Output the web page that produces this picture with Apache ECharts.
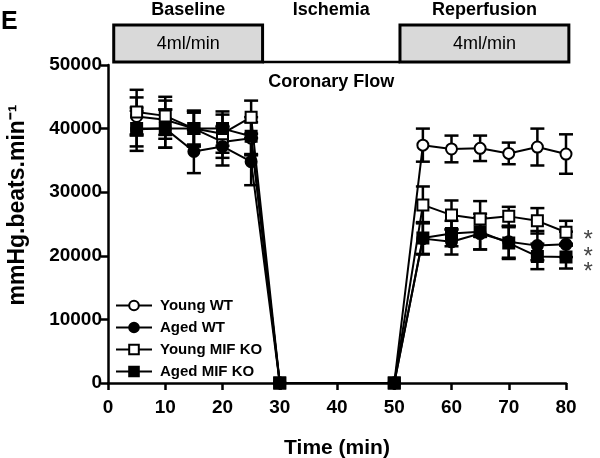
<!DOCTYPE html>
<html>
<head>
<meta charset="utf-8">
<script src="https://cdn.jsdelivr.net/npm/echarts@6/dist/echarts.min.js"></script>
<style>
    html, body { margin: 0; padding: 0; background: #fff; }
    #chart { width: 600px; height: 458px; }
</style>
</head>
<body>
<div id="chart"></div>
<script>
// time points (min); 30 and 50 are the ischemia start / end
var times = [5, 10, 15, 20, 25, 30, 50, 55, 60, 65, 70, 75, 80];

var youngWT = [41900, 41400, 40000, 37900, 38500, 0, 0, 37400, 36800, 36900, 36100, 37100, 36000];
var youngWTErr = [3000, 3000, 2500, 2500, 2500, null, null, 2600, 2100, 2000, 1700, 2900, 3100];

var agedWT = [39900, 40000, 36400, 37200, 34800, 0, 0, 22700, 22200, 23500, 22200, 21600, 21800];
var agedWTErr = [3400, 3000, 3400, 3000, 3700, null, null, 2500, 2000, 2500, 2500, 2300, 2000];

var youngKO = [42600, 42000, 40000, 39200, 41800, 0, 0, 28000, 26400, 25800, 26200, 25500, 23700];
var youngKOErr = [3500, 3000, 2800, 3000, 2600, null, null, 2900, 2300, 2800, 1500, 2000, 1800];

var agedKO = [40000, 40000, 40000, 40000, 38800, 0, 0, 22800, 23500, 23800, 22000, 19900, 19800];
var agedKOErr = [2800, 3000, 2800, 2700, 3000, null, null, 2500, 2000, 2800, 2500, 2000, 1800];

// series flagged with * at the last time point
var starred = ['Young MIF KO', 'Aged WT', 'Aged MIF KO'];

// protocol bar above the plot
var phases = [
    { name: 'Baseline', from: 1, to: 27, flow: '4ml/min' },
    { name: 'Ischemia', from: 27, to: 51, flow: null },
    { name: 'Reperfusion', from: 51, to: 80.5, flow: '4ml/min' }
];

var xTicks = { min: 0, max: 80, interval: 10 };
var yTicks = { min: 0, max: 50000, interval: 10000 };

var FONT = '"Liberation Sans", Arial, sans-serif';
var chart = echarts.init(document.getElementById('chart'), null, { renderer: 'canvas' });

// vertical nudge of each asterisk so they stack like the original
var starNudge = { 'Young MIF KO': 8, 'Aged WT': 13, 'Aged MIF KO': 15 };

function pairs(vals, name) {
    return times.map(function (t, i) {
        var item = { value: [t, vals[i]] };
        if (i === times.length - 1 && starred.indexOf(name) >= 0) {
            item.label = {
                show: true,
                formatter: '*',
                position: 'right',
                distance: 11,
                color: '#444',
                fontSize: 24,
                fontFamily: FONT,
                offset: [0, starNudge[name]]
            };
        }
        return item;
    });
}

function errData(vals, errs) {
    var out = [];
    times.forEach(function (t, i) {
        if (errs[i] != null) {
            out.push([t, vals[i] - errs[i], vals[i] + errs[i]]);
        }
    });
    return out;
}

function errSeries(vals, errs) {
    return {
        type: 'custom',
        silent: true,
        z: 1,
        data: errData(vals, errs),
        renderItem: function (params, api) {
            var x = api.value(0);
            var lo = api.coord([x, api.value(1)]);
            var hi = api.coord([x, api.value(2)]);
            var w = 7;
            var st = { stroke: '#000', lineWidth: 2.5 };
            return {
                type: 'group',
                children: [
                    { type: 'line', shape: { x1: lo[0], y1: lo[1], x2: hi[0], y2: hi[1] }, style: st },
                    { type: 'line', shape: { x1: lo[0] - w, y1: lo[1], x2: lo[0] + w, y2: lo[1] }, style: st },
                    { type: 'line', shape: { x1: hi[0] - w, y1: hi[1], x2: hi[0] + w, y2: hi[1] }, style: st }
                ]
            };
        }
    };
}

function lineSeries(name, vals, symbol, z) {
    return {
        name: name,
        type: 'line',
        z: z,
        data: pairs(vals, name),
        symbol: symbol,
        symbolSize: 11,
        showAllSymbol: true,
        lineStyle: { color: '#000', width: 2 },
        itemStyle: { color: '#000', borderColor: '#000', borderWidth: 2 },
        emphasis: { disabled: true }
    };
}

var option = {
    animation: false,
    backgroundColor: '#fff',
    textStyle: { fontFamily: FONT },
    grid: { left: 108, right: 34, top: 65, bottom: 75, containLabel: false, outerBoundsMode: 'none' },
    legend: {
        orient: 'vertical',
        left: 110,
        top: 293,
        itemGap: 7,
        itemWidth: 36,
        itemHeight: 12,
        textStyle: { fontSize: 15, fontWeight: 'bold', color: '#000', fontFamily: FONT, padding: [0, 0, 0, 3] },
        data: ['Young WT', 'Aged WT', 'Young MIF KO', 'Aged MIF KO']
    },
    xAxis: {
        type: 'value',
        min: xTicks.min,
        max: xTicks.max,
        interval: xTicks.interval,
        name: 'Time (min)',
        nameLocation: 'middle',
        nameGap: 55,
        nameTextStyle: { fontSize: 21, fontWeight: 'bold', color: '#000', fontFamily: FONT },
        axisLine: { lineStyle: { color: '#000', width: 2.5 } },
        axisTick: { show: true, length: 7, lineStyle: { color: '#000', width: 2.5 } },
        axisLabel: { fontSize: 19, fontWeight: 'bold', color: '#000', margin: 15, fontFamily: FONT },
        splitLine: { show: false }
    },
    yAxis: {
        type: 'value',
        min: yTicks.min,
        max: yTicks.max,
        interval: yTicks.interval,
        name: 'mmHg.beats.min\u207B\u00B9',
        nameLocation: 'middle',
        nameRotate: 90,
        nameGap: 79,
        nameTextStyle: { fontSize: 23, fontWeight: 'bold', color: '#000', fontFamily: FONT, padding: [0, 0, 0, 38] },
        axisLine: { show: true, lineStyle: { color: '#000', width: 2.5 } },
        axisTick: { show: true, length: 7, lineStyle: { color: '#000', width: 2.5 } },
        axisLabel: {
            fontSize: 19, fontWeight: 'bold', color: '#000', margin: 6, fontFamily: FONT,
            formatter: function (v) { return String(v); }
        },
        splitLine: { show: false }
    },
    series: [
        errSeries(youngWT, youngWTErr),
        errSeries(agedWT, agedWTErr),
        errSeries(youngKO, youngKOErr),
        errSeries(agedKO, agedKOErr),
        lineSeries('Young WT', youngWT, 'emptyCircle', 3),
        lineSeries('Young MIF KO', youngKO, 'emptyRect', 4),
        lineSeries('Aged WT', agedWT, 'circle', 5),
        lineSeries('Aged MIF KO', agedKO, 'rect', 6)
    ]
};

chart.setOption(option);

// protocol boxes and labels, placed on the x scale
function buildHeader() {
    var boxTop = 25, boxBottom = 62;
    var els = [];
    phases.forEach(function (p) {
        var x1 = chart.convertToPixel({ xAxisIndex: 0 }, p.from);
        var x2 = chart.convertToPixel({ xAxisIndex: 0 }, p.to);
        var cx = (x1 + x2) / 2;
        if (p.flow) {
            els.push({
                type: 'rect',
                shape: { x: x1, y: boxTop, width: x2 - x1, height: boxBottom - boxTop },
                style: { fill: '#d9d9d9', stroke: '#000', lineWidth: 3 }
            });
            els.push({
                type: 'text',
                x: cx, y: (boxTop + boxBottom) / 2 + 1,
                style: { text: p.flow, fontSize: 18, fontFamily: FONT, fill: '#000', align: 'center', verticalAlign: 'middle' }
            });
        } else {
            els.push({
                type: 'line',
                shape: { x1: x1, y1: boxBottom, x2: x2, y2: boxBottom },
                style: { stroke: '#000', lineWidth: 2.5 }
            });
            els.push({
                type: 'text',
                x: cx, y: 82,
                style: { text: 'Coronary Flow', fontSize: 18, fontWeight: 'bold', fontFamily: FONT, fill: '#000', align: 'center', verticalAlign: 'middle' }
            });
        }
        els.push({
            type: 'text',
            x: cx, y: 10,
            style: { text: p.name, fontSize: 18, fontWeight: 'bold', fontFamily: FONT, fill: '#000', align: 'center', verticalAlign: 'middle' }
        });
    });
    els.push({
        type: 'text',
        x: 1, y: 22,
        style: { text: 'E', fontSize: 25, fontWeight: 'bold', fontFamily: FONT, fill: '#000', verticalAlign: 'middle' }
    });
    chart.setOption({ graphic: els });
}

buildHeader();
</script>
</body>
</html>
